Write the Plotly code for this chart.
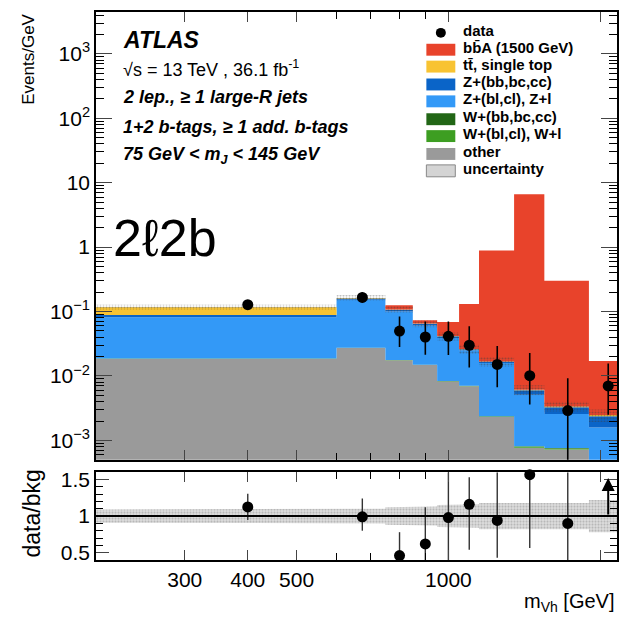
import numpy as np
import plotly.graph_objects as go

# ---------------- data ----------------
edges = [200, 600, 750, 850, 950, 1050, 1150, 1350, 1550, 1900, 2250]
centers = [400, 675, 800, 900, 1000, 1100, 1250, 1450, 1725, 2075]

other   = [0.0183, 0.0272, 0.0176, 0.0148, 0.0082, 0.0069, 0.0023, 0.00077, 0.00072, 0.0004]
w_light = [0.0002, 0.0002, 0.0001, 0.0001, 0.0001, 0.0001, 0.00005, 0.00003, 0.00003, 0.00002]
w_heavy = [0.0001, 0.0001, 0.00005, 0.00005, 0.00005, 0.00003, 0.00002, 0.00001, 0.00001, 0.00001]
z_light = [0.0632, 0.1254, 0.0822, 0.0461, 0.0305, 0.0181, 0.0135, 0.0043, 0.0018, 0.00115]
z_heavy = [0.0070, 0.0060, 0.0070, 0.0035, 0.0025, 0.0008, 0.0008, 0.0009, 0.0007, 0.0008]
ttbar   = [0.0278, 0.0040, 0.0010, 0.0005, 0.0004, 0.0003, 0.0001, 0.0001, 0.0001, 0.0001]
signal  = [0.0, 0.0, 0.017, 0.008, 0.027, 0.105, 0.87, 6.6, 0.297, 0.0146]
unc_frac = [0.09, 0.10, 0.12, 0.13, 0.15, 0.16, 0.18, 0.18, 0.18, 0.22]

data     = [0.128, 0.166, 0.0497, 0.0403, 0.0412, 0.030, 0.0151, 0.0101, 0.0029, 0.0070]
data_up  = [0.018, 0.033, 0.034, 0.030, 0.029, 0.029, 0.0142, 0.0127, 0.0063, 0.0086]
data_dn  = [0.016, 0.028, 0.0215, 0.019, 0.020, 0.0164, 0.0084, 0.0065, 0.00289, 0.0045]

ratio    = [1.125, 0.99, 0.46, 0.62, 0.98, 1.16, 0.94, 1.565, 0.90, None]
ratio_up = [0.18, 0.25, 0.32, 0.50, 0.62, 0.37, 0.66, 0.035, 0.70, 0]
ratio_dn = [0.18, 0.19, 0.06, 0.22, 0.58, 0.62, 0.51, 1.0, 0.50, 0]
ratio_arrow_from, ratio_arrow_to = 1.0, 1.52   # last bin: data/bkg off scale

x_tickvals = [300, 400, 500, 1000, 2000]
x_ticktext = ["300", "400", "500", "1000", "2000"]
x_minor = [600, 700, 800, 900]
y_tickvals = [1e-3, 1e-2, 1e-1, 1, 10, 100, 1000]
y_ticktext = ["10<sup>−3</sup>", "10<sup>−2</sup>", "10<sup>−1</sup>", "1", "10",
              "10<sup>2</sup>", "10<sup>3</sup>"]

legend_labels = ["data", "bb\u0304A (1500 GeV)", "tt\u0304, single top", "Z+(bb,bc,cc)",
                 "Z+(bl,cl), Z+l", "W+(bb,bc,cc)", "W+(bl,cl), W+l", "other", "uncertainty"]

C_SIG = "#E8432B"
C_TT = "#F8C332"
C_ZHF = "#0A64C8"
C_ZLF = "#3399F7"
C_WHF = "#226616"
C_WLF = "#3D9E22"
C_OTH = "#9A9A9A"

FONT = "Liberation Sans, Arial, Helvetica, sans-serif"

# ---------------- geometry helpers ----------------
# the page body has an 8 px default margin; keep the figure inside the body box
OFF = 8
W, H = 627 - 2 * OFF, 620 - 2 * OFF
ML, MR, MT = 96 - OFF, 1, 8 - OFF
MB = (OFF + H) - 560
PW, PH = W - ML - MR, H - MT - MB
X0, YB = 96, 560  # plot-area left / bottom in page pixels


def px(x):
    return (x - X0) / PW


def py(y):
    return (YB - y) / PH


def step(vals):
    xs, ys = [], []
    for i, v in enumerate(vals):
        xs += [edges[i], edges[i + 1]]
        ys += [v, v]
    return xs, ys


fig = go.Figure()

# ---------------- main panel stack ----------------
layers = [(other, C_OTH), (w_light, C_WLF), (w_heavy, C_WHF), (z_light, C_ZLF),
          (z_heavy, C_ZHF), (ttbar, C_TT), (signal, C_SIG)]
base = np.full(len(centers), 1e-6)
xs, ys = step(base)
fig.add_trace(go.Scatter(x=xs, y=ys, mode="lines", line=dict(width=0), showlegend=False,
                         hoverinfo="skip", xaxis="x", yaxis="y"))
cum = base.copy()
bkg_total = None
for i, (vals, col) in enumerate(layers):
    cum = cum + np.array(vals)
    if i == len(layers) - 2:
        bkg_total = cum.copy()
    xs, ys = step(cum)
    fig.add_trace(go.Scatter(x=xs, y=ys, mode="lines", line=dict(width=0), fill="tonexty",
                             fillcolor=col, showlegend=False, hoverinfo="skip",
                             xaxis="x", yaxis="y"))

# uncertainty hatch on the background total
lo = bkg_total * (1 - np.array(unc_frac))
hi = bkg_total * (1 + np.array(unc_frac))
xs, ys = step(lo)
fig.add_trace(go.Scatter(x=xs, y=ys, mode="lines", line=dict(width=0), showlegend=False,
                         hoverinfo="skip", xaxis="x", yaxis="y"))
xs, ys = step(hi)
fig.add_trace(go.Scatter(x=xs, y=ys, mode="lines", line=dict(width=0), fill="tonexty",
                         fillcolor="rgba(0,0,0,0)",
                         fillpattern=dict(shape=".", fgcolor="rgba(60,60,60,0.85)",
                                          bgcolor="rgba(0,0,0,0)", size=3, solidity=0.4),
                         showlegend=False, hoverinfo="skip", xaxis="x", yaxis="y"))

# data
fig.add_trace(go.Scatter(x=centers, y=data, mode="markers",
                         marker=dict(color="black", size=11),
                         error_y=dict(type="data", symmetric=False, array=data_up,
                                      arrayminus=data_dn, color="black", thickness=1.6, width=0),
                         showlegend=False, xaxis="x", yaxis="y"))

# ---------------- ratio panel ----------------
rlo = 1 - np.array(unc_frac)
rhi = 1 + np.array(unc_frac)
xs, ys = step(rlo)
fig.add_trace(go.Scatter(x=xs, y=ys, mode="lines", line=dict(width=0), showlegend=False,
                         hoverinfo="skip", xaxis="x2", yaxis="y2"))
xs, ys = step(rhi)
fig.add_trace(go.Scatter(x=xs, y=ys, mode="lines", line=dict(width=0), fill="tonexty",
                         fillcolor="#dcdcdc",
                         fillpattern=dict(shape=".", fgcolor="#8c8c8c", bgcolor="#dedede",
                                          size=3, solidity=0.4),
                         showlegend=False, hoverinfo="skip", xaxis="x2", yaxis="y2"))
fig.add_shape(type="line", xref="x2 domain", yref="y2", x0=0, x1=1, y0=1, y1=1,
              line=dict(color="black", width=2))
fig.add_trace(go.Scatter(x=centers, y=ratio, mode="markers",
                         marker=dict(color="black", size=11), cliponaxis=False,
                         error_y=dict(type="data", symmetric=False, array=ratio_up,
                                      arrayminus=ratio_dn, color="#333333", thickness=1.4, width=0),
                         showlegend=False, xaxis="x2", yaxis="y2"))
fig.add_annotation(x=np.log10(centers[-1]), y=ratio_arrow_to, ax=np.log10(centers[-1]),
                   ay=ratio_arrow_from, xref="x2", yref="y2", axref="x2", ayref="y2",
                   text="", showarrow=True, arrowhead=2, arrowsize=1.3, arrowwidth=2,
                   arrowcolor="black")

# ---------------- axes ----------------
xr = [np.log10(200), np.log10(2160)]
axis_common = dict(showline=True, linecolor="black", linewidth=1.5, mirror="allticks",
                   ticks="inside", showgrid=False, zeroline=False,
                   tickfont=dict(family=FONT, size=21, color="black"))
main_bottom = py(459)
ratio_top = py(471.5)
fig.update_layout(
    xaxis=dict(type="log", range=xr, domain=[0, 1], anchor="y", showticklabels=False,
               tickvals=x_tickvals, ticklen=10,
               minor=dict(tickvals=x_minor, ticklen=7, ticks="inside", tickcolor="black"),
               **axis_common),
    yaxis=dict(type="log", range=[-3.3, 3.65], domain=[main_bottom, 1], anchor="x",
               tickvals=y_tickvals, ticktext=y_ticktext, ticklen=16,
               minor=dict(tickvals=[k * 10.0 ** d for d in range(-4, 4) for k in range(2, 10)],
                          ticklen=8, ticks="inside", tickcolor="black"),
               **axis_common),
    xaxis2=dict(type="log", range=xr, domain=[0, 1], anchor="y2", matches="x",
                tickvals=x_tickvals, ticktext=x_ticktext, ticklen=10,
                minor=dict(tickvals=x_minor, ticklen=7, ticks="inside", tickcolor="black"),
                **axis_common),
    yaxis2=dict(range=[0.4, 1.6], domain=[0, ratio_top], anchor="x2",
                tickvals=[0.5, 1, 1.5], ticktext=["0.5", "1", "1.5"], ticklen=13,
                minor=dict(dtick=0.1, ticklen=7, ticks="inside", tickcolor="black"),
                **axis_common),
)

# ---------------- titles & labels ----------------
fig.add_annotation(xref="paper", yref="paper", x=px(29), y=py(56), text="Events/GeV",
                   textangle=-90, showarrow=False, xanchor="center", yanchor="middle",
                   font=dict(family=FONT, size=17, color="black"))
fig.add_annotation(xref="paper", yref="paper", x=px(32), y=py(513), text="data/bkg",
                   textangle=-90, showarrow=False, xanchor="center", yanchor="middle",
                   font=dict(family=FONT, size=23, color="black"))
fig.add_annotation(xref="paper", yref="paper", x=px(618), y=py(603),
                   text="m<sub>Vh</sub> [GeV]", showarrow=False, xanchor="right",
                   yanchor="middle", font=dict(family=FONT, size=20, color="black"))

texts = [
    ("<b><i>ATLAS</i></b>", 36, 23),
    ("\u221as = 13 TeV , 36.1 fb<sup>-1</sup>", 65, 18),
    ("<b><i>2 lep., \u2265 1 large-R jets</i></b>", 94, 18),
    ("<b><i>1+2 b-tags, \u2265 1 add. b-tags</i></b>", 124, 18),
    ("<b><i>75 GeV &lt; m<sub>J</sub> &lt; 145 GeV</i></b>", 153, 18),
]
for t, yy, sz in texts:
    fig.add_annotation(xref="paper", yref="paper", x=px(121), y=py(yy), text=t,
                       showarrow=False, xanchor="left", yanchor="middle",
                       font=dict(family=FONT, size=sz, color="black"))

fig.add_annotation(xref="paper", yref="paper", x=px(111), y=py(236), text="2\u21132b",
                   showarrow=False, xanchor="left", yanchor="middle",
                   font=dict(family=FONT, size=52, color="black"))

# ---------------- legend (custom) ----------------
rows = [29, 46, 63, 81, 98, 116, 133, 151, 168]
sw_cols = [None, C_SIG, C_TT, C_ZHF, C_ZLF, C_WHF, C_WLF, C_OTH, "#d4d4d4"]
for lab, yy, col in zip(legend_labels, rows, sw_cols):
    if col is None:
        fig.add_shape(type="circle", xref="paper", yref="paper", x0=px(436.5), x1=px(446.5),
                      y0=py(yy + 5), y1=py(yy - 5), fillcolor="black", line=dict(width=0))
    else:
        border = dict(color="#888888", width=1) if lab == "uncertainty" else dict(width=0)
        fig.add_shape(type="rect", xref="paper", yref="paper", x0=px(427), x1=px(456),
                      y0=py(yy + 6), y1=py(yy - 6), fillcolor=col, line=border)
    fig.add_annotation(xref="paper", yref="paper", x=px(462), y=py(yy - 2.5),
                       text="<b>" + lab + "</b>",
                       showarrow=False, xanchor="left", yanchor="middle",
                       font=dict(family=FONT, size=15, color="black"))

fig.update_layout(width=W, height=H, margin=dict(l=ML, r=MR, t=MT, b=MB),
                  paper_bgcolor="white", plot_bgcolor="white", showlegend=False)

fig.write_html("out.html")
